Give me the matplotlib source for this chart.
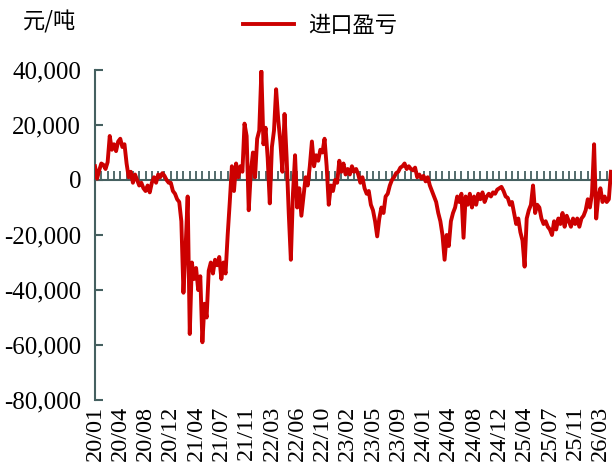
import numpy as np
import matplotlib
matplotlib.use('Agg')
import matplotlib.pyplot as plt
from matplotlib.ticker import FuncFormatter, MultipleLocator

# 进口盈亏（千元/吨），按图上读数，约每 2 像素一个点
profit_k = [
    5, 0.5, 3.5, 6, 5.5, 4, 6.5, 16, 11, 13, 10.5, 14,
    15, 12, 13, 6, 1, 3, -1, 2, 0, -2, -1, -3,
    -4, -2, -4.5, -1, 1, -1, 2, 1, 2.5, 1.5, 0, -1,
    -1, -4, -5, -7, -8, -15, -41, -25, -6, -56, -30, -36,
    -32, -40, -35, -59, -45, -50, -33, -30, -34, -29, -31, -28,
    -36, -30, -34, -20, -8, 5, -4, 6, 1, 5, 3, 20.5,
    16, -11, 3, 10, 1, 15, 18, 39.5, 13, 19, 8, -8.5,
    12, 18, 33, 22, 14, 3, 24, 8, -12, -29, -5, 9,
    -10, -3, -13, -6, 1, -2, 5, 14, 5, 9, 7, 11,
    10, 15, 5, -9, -2, -4, 0, -1, 7, 3, 6, 2,
    4, 2, 5, 3, 4, 2, -1, 1, -3, -5, -4, -9,
    -11, -15, -20.5, -14, -10, -12, -6, -5, -2, 0, 1, 2.5,
    3, 4.5, 5, 6, 4, 5, 4, 3.5, 4.5, 1, 2, 0.5,
    1.5, -0.5, 1, -2, -4, -6, -8, -12, -15, -20, -29, -20,
    -24, -15, -12, -10, -6, -8, -5, -21, -6, -9, -5, -10,
    -6, -9, -5, -7, -4.5, -8, -6, -5, -6, -4.5, -5, -3.5,
    -3, -2.5, -4, -6, -6.5, -9, -8, -12, -16, -14, -19, -22,
    -31.5, -14, -11, -9, -2, -12, -9, -10, -14, -16, -15, -17,
    -18, -20, -15, -18, -14, -16, -12, -17, -13, -15, -17, -14,
    -16, -14, -17, -14, -13, -11, -7, -10, -5, 13, -14, -6,
    -3, -8, -6, -8, -7, 3,
]

date_labels = ['20/01', '20/04', '20/08', '20/12', '21/04', '21/07', '21/11',
               '22/03', '22/06', '22/10', '23/02', '23/05', '23/09', '24/01',
               '24/04', '24/08', '24/12', '25/04', '25/07', '25/11', '26/03']
label_step = 12

values = np.array(profit_k) * 1000
x = np.arange(len(values))

axis_color = '#456060'
serif = 'Liberation Serif'
cjk = ['Noto Sans CJK SC', 'DejaVu Sans']

fig = plt.figure(figsize=(6.12, 4.71), dpi=100)
ax = fig.add_axes([95 / 612, 1 - 400 / 471, 1 - 95 / 612, 330 / 471])

line, = ax.plot(x, values, color='#cc0000', linewidth=2.8, zorder=3, label='进口盈亏')

ax.set_xlim(0, len(values) - 0.5)
ax.set_ylim(-80000, 40000)

# 坐标轴样式
for s in ['top', 'right']:
    ax.spines[s].set_visible(False)
ax.spines['bottom'].set_position(('data', 0))
ax.spines['bottom'].set_color(axis_color)
ax.spines['left'].set_color(axis_color)
ax.spines['bottom'].set_linewidth(1.5)
ax.spines['left'].set_linewidth(1.5)

ax.yaxis.set_major_locator(MultipleLocator(20000))
ax.yaxis.set_major_formatter(FuncFormatter(lambda v, p: f'{int(v):,}'))
ax.tick_params(axis='y', direction='in', length=6, width=1.5, color=axis_color,
               pad=10, labelsize=18)
for t in ax.get_yticklabels():
    t.set_fontfamily(serif)

ax.xaxis.set_major_locator(MultipleLocator(3))
ax.tick_params(axis='x', direction='in', length=6.5, width=1.3, color=axis_color,
               labelbottom=False)

# 日期标签放在图底部
for k, lab in enumerate(date_labels):
    ax.annotate(lab, xy=(k * label_step, 0), xycoords=('data', 'axes fraction'),
                xytext=(0, -4), textcoords='offset points', rotation=90,
                ha='center', va='top', fontsize=17.5, family=serif)

fig.text(50 / 612, 1 - 22 / 471, '元/吨', ha='center', va='center',
         fontsize=16, family=cjk)

fig.legend(handles=[line], loc='center', bbox_to_anchor=(320 / 612, 1 - 25 / 471),
           frameon=False, prop={'family': cjk, 'size': 16},
           handlelength=2.3, handletextpad=0.6)

plt.savefig('out.png', dpi=100)
